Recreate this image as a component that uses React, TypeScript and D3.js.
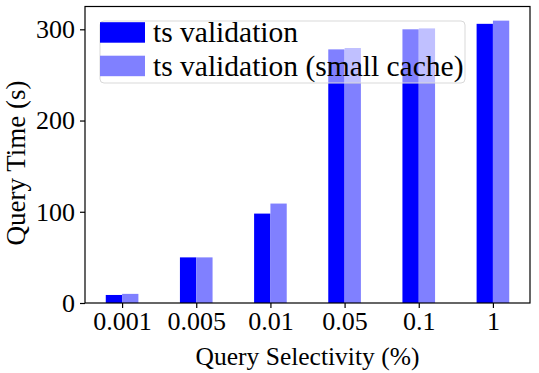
import React, { useRef, useEffect } from "react";
import * as d3 from "d3";

const categories = ["0.001", "0.005", "0.01", "0.05", "0.1", "1"];
const tsValidation = [8.8, 50, 98, 278, 300, 306];
const tsValidationSmall = [10, 50, 109, 279.5, 301, 309.5];
const yTicks = [0, 100, 200, 300];
const seriesNames = ["ts validation", "ts validation (small cache)"];
const seriesColors = ["#0000ff", "#8080ff"];

const W = 539;
const H = 373;

const App = () => {
  const svgRef = useRef<SVGSVGElement>(null);

  useEffect(() => {
    const svg = d3.select(svgRef.current);
    svg.selectAll("*").remove();

    const margin = { top: 6.5, right: 9, bottom: 70, left: 85 };
    const x0 = margin.left;
    const x1 = W - margin.right;
    const y0 = H - margin.bottom;
    const y1 = margin.top;
    const font = "'Liberation Serif', 'Times New Roman', serif";

    const x = d3.scaleLinear().domain([-0.5, categories.length - 0.5]).range([x0, x1]);
    const y = d3.scaleLinear().domain([0, 325]).range([y0, y1]);
    const barW = x(0.22) - x(0);

    const series = [tsValidation, tsValidationSmall];
    series.forEach((vals, s) => {
      svg.append("g")
        .selectAll("rect")
        .data(vals)
        .enter()
        .append("rect")
        .attr("x", (d, i) => x(i) + (s === 0 ? -barW : 0))
        .attr("y", (d) => y(d))
        .attr("width", barW)
        .attr("height", (d) => y0 - y(d))
        .attr("fill", seriesColors[s]);
    });

    // frame
    svg.append("rect")
      .attr("x", x0).attr("y", y1)
      .attr("width", x1 - x0).attr("height", y0 - y1)
      .attr("fill", "none").attr("stroke", "#000").attr("stroke-width", 1.2);

    // x axis
    const gx = svg.append("g").attr("transform", `translate(0,${y0})`)
      .call(d3.axisBottom(x)
        .tickValues(d3.range(categories.length))
        .tickFormat((d) => categories[d as number])
        .tickSize(5).tickPadding(4));
    gx.select(".domain").remove();
    gx.selectAll("text").attr("font-family", font).attr("font-size", 26).attr("fill", "#000");
    gx.selectAll("line").attr("stroke", "#000").attr("stroke-width", 1.2);

    // y axis
    const gy = svg.append("g").attr("transform", `translate(${x0},0)`)
      .call(d3.axisLeft(y).tickValues(yTicks).tickSize(5).tickPadding(5));
    gy.select(".domain").remove();
    gy.selectAll("text").attr("font-family", font).attr("font-size", 26).attr("fill", "#000");
    gy.selectAll("line").attr("stroke", "#000").attr("stroke-width", 1.2);

    // axis labels
    svg.append("text")
      .attr("x", (x0 + x1) / 2).attr("y", 365)
      .attr("text-anchor", "middle")
      .attr("font-family", font).attr("font-size", 25.5)
      .text("Query Selectivity (%)");
    svg.append("text")
      .attr("transform", `translate(25,163) rotate(-90)`)
      .attr("text-anchor", "middle")
      .attr("font-family", font).attr("font-size", 27)
      .text("Query Time (s)");

    // legend
    const lg = svg.append("g");
    lg.append("rect")
      .attr("x", 100).attr("y", 21).attr("width", 365).attr("height", 62)
      .attr("rx", 4)
      .attr("fill", "#fff").attr("fill-opacity", 0.5)
      .attr("stroke", "#d9d9d9").attr("stroke-width", 1);
    seriesNames.forEach((name, i) => {
      const cy = 32.5 + i * 33.5;
      lg.append("rect")
        .attr("x", 100).attr("y", cy - 10.3).attr("width", 45).attr("height", 20.5)
        .attr("fill", seriesColors[i]);
      lg.append("text")
        .attr("x", 153).attr("y", cy + 9.5)
        .attr("font-family", font).attr("font-size", 29.5)
        .text(name);
    });

    return () => {};
  }, []);

  return <svg ref={svgRef} width={W} height={H} style={{ position: "absolute", left: 0, top: 0 }} />;
};

export default App;
